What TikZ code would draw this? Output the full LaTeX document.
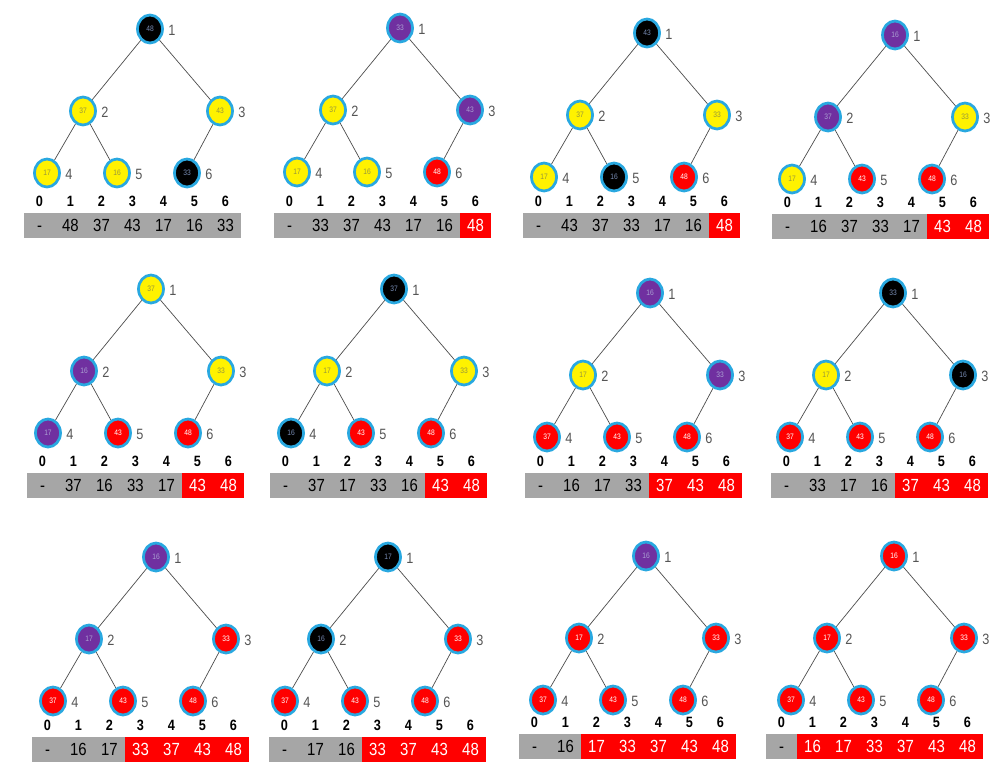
\documentclass[tikz,border=0pt]{standalone}
\usepackage{fontspec}
\setmainfont{Liberation Sans}[FakeStretch=0.85]
\usetikzlibrary{shapes.geometric}
\definecolor{ringblue}{RGB}{41,168,224}
\definecolor{heappurple}{RGB}{112,48,160}
\definecolor{cellgrey}{RGB}{166,166,166}
\definecolor{labgrey}{RGB}{85,85,85}
\definecolor{blacktext}{RGB}{120,140,180}
\definecolor{purpletext}{RGB}{170,160,210}
\definecolor{yellowtext}{RGB}{150,150,60}

% #1 name, #2 #3 corner of the array, #4 #5 root, #6 style/value list, #7 first sorted cell
\newcommand{\heapstate}[7]{%
  \fill[cellgrey] (#2,#3) rectangle +(217,25);
  \ifnum#7<7 \fill[red] ({#2+31*#7},#3) rectangle ({#2+217},{#3+25});\fi
  \node[cellnum] at ({#2+15.5},{#3+18.5}) {-};
  \foreach \i in {0,...,6}
    \node[idx] at ({#2+15.5+31*\i},{#3-6.5}) {\i};
  \foreach \c/\v [count=\i] in {#6}{
    \pgfmathsetmacro{\dx}{{0,-67,70,-103,-33,37}[\i-1]}
    \pgfmathsetmacro{\dy}{{0,82,82,144,144,144}[\i-1]}
    \node[heapnode,\c] (#1n\i) at ({#4+\dx},{#5+\dy}) {\v};
    \node[lab] at ({#4+\dx+18},{#5+\dy+1}) {\i};
    \ifnum\i<#7 \node[cellnum] at ({#2+15.5+31*\i},{#3+18.5}) {\v};
    \else \node[cellnum,text=white] at ({#2+15.5+31*\i},{#3+18.5}) {\v};\fi
  }
  \foreach \p/\q in {1/2,1/3,2/4,2/5,3/6}
    \draw[edge] (#1n\p) -- (#1n\q);
}

\begin{document}
\begin{tikzpicture}[x=0.02cm, y=-0.02cm,
    heapnode/.style={ellipse, draw=ringblue, line width=0.055cm, minimum width=0.5cm,
      minimum height=0.56cm, inner sep=0pt, font=\fontsize{4.5}{5}\selectfont},
    hblack/.style={fill=black, text=blacktext},
    hyellow/.style={fill=yellow, text=yellowtext},
    hpurple/.style={fill=heappurple, text=purpletext},
    hred/.style={fill=red, text=white},
    edge/.style={draw=black!70, line width=0.4pt},
    lab/.style={anchor=west, inner sep=0pt, text=labgrey, font=\fontsize{8.5}{10}\selectfont},
    idx/.style={anchor=base, inner sep=0pt, font=\bfseries\fontsize{8.5}{10}\selectfont},
    cellnum/.style={anchor=base, inner sep=0pt, font=\fontsize{10}{12}\selectfont}]
  \useasboundingbox (0,0) rectangle (1006,769);

  \heapstate{a}{24}{213}{150}{29}{hblack/48,hyellow/37,hyellow/43,hyellow/17,hyellow/16,hblack/33}{7}
  \heapstate{b}{274}{213}{400}{28}{hpurple/33,hyellow/37,hpurple/43,hyellow/17,hyellow/16,hred/48}{6}
  \heapstate{c}{523}{213}{647}{33}{hblack/43,hyellow/37,hyellow/33,hyellow/17,hblack/16,hred/48}{6}
  \heapstate{d}{772}{214}{895}{35}{hpurple/16,hpurple/37,hyellow/33,hyellow/17,hred/43,hred/48}{5}

  \heapstate{e}{27}{473}{151}{289}{hyellow/37,hpurple/16,hyellow/33,hpurple/17,hred/43,hred/48}{5}
  \heapstate{f}{270}{473}{394}{289}{hblack/37,hyellow/17,hyellow/33,hblack/16,hred/43,hred/48}{5}
  \heapstate{g}{525}{473}{650}{293}{hpurple/16,hyellow/17,hpurple/33,hred/37,hred/43,hred/48}{4}
  \heapstate{h}{771}{473}{893}{293}{hblack/33,hyellow/17,hblack/16,hred/37,hred/43,hred/48}{4}

  \heapstate{i}{32}{737}{156}{557}{hpurple/16,hpurple/17,hred/33,hred/37,hred/43,hred/48}{3}
  \heapstate{j}{269}{737}{388}{557}{hblack/17,hblack/16,hred/33,hred/37,hred/43,hred/48}{3}
  \heapstate{k}{519}{734}{646}{556}{hpurple/16,hred/17,hred/33,hred/37,hred/43,hred/48}{2}
  \heapstate{l}{766}{734}{894}{556}{hred/16,hred/17,hred/33,hred/37,hred/43,hred/48}{1}
\end{tikzpicture}
\end{document}
